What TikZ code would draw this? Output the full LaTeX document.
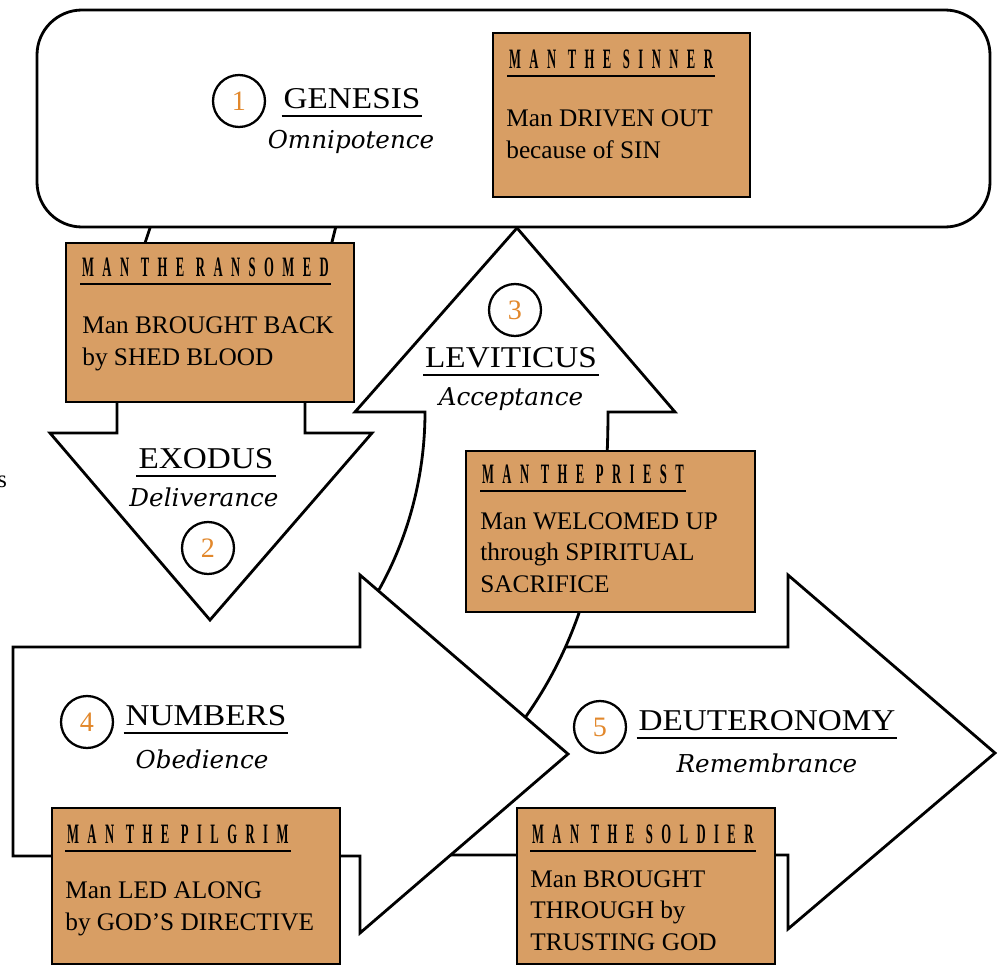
\documentclass[tikz,border=0pt]{standalone}
\usepackage{fontspec}
\setmainfont{Liberation Serif}
\newfontfamily\bookfont[FakeStretch=1.1]{Liberation Serif}
\newfontfamily\virtuefont{DejaVu Serif}
\newfontfamily\manfont[FakeStretch=0.45,LetterSpace=30]{Liberation Serif}
\usetikzlibrary{calc}
\definecolor{bibleTan}{RGB}{216,158,100}
\definecolor{bibleOrange}{RGB}{226,136,44}

\begin{document}
\begin{tikzpicture}[x=0.02cm, y=-0.02cm,
    outline/.style={draw, line width=1.6pt, fill=white, line join=miter},
    manbox/.style={draw, line width=1.6pt, fill=bibleTan, inner sep=0pt},
    mantitle/.style={anchor=base west, inner xsep=1pt, inner ysep=4.3pt, font=\manfont\bfseries\fontsize{16}{18}\selectfont},
    mantext/.style={anchor=base west, inner sep=0pt, align=left, font=\fontsize{14.4}{17.9}\selectfont},
    bookname/.style={anchor=base, inner xsep=1pt, inner ysep=4pt, font=\bookfont\fontsize{17.2}{20}\selectfont},
    virtue/.style={anchor=base, inner sep=0pt, font=\virtuefont\itshape\fontsize{14}{16}\selectfont},
    booknum/.style={circle, draw, line width=1.3pt, minimum size=1.04cm, inner sep=0pt, text=bibleOrange, font=\fontsize{16}{17}\selectfont},
    underrule/.style={line width=1pt}]
    \useasboundingbox (0,0) rectangle (998,967);
    \clip (0,0) rectangle (998,967);

    \draw[outline] (430,647) -- (788,647) -- (788,575) -- (995,753) -- (788,929) -- (788,855) -- (430,855) -- cycle;
    \draw[outline] (517,228) -- (675,412) -- (608,412) .. controls (608,540) and (585,650) .. (500,750) -- (373,600) .. controls (407,544) and (425,478) .. (425,412) -- (355,412) -- cycle;
    \draw[outline] (152,222) -- (144,246) -- (117,395) -- (117,433) -- (50,433) -- (210,620) -- (372,433) -- (305,433) -- (305,395) -- (331,246) -- (337,222) -- cycle;
    \draw[outline] (13,647) -- (360,647) -- (360,575) -- (568,754) -- (360,933) -- (360,856) -- (13,856) -- cycle;
    \draw[outline, rounded corners=0.9cm] (37,10) rectangle (990,227);

    \node[manbox, minimum width=5.14cm, minimum height=3.28cm] (sinner) at (621.5,115) {};
    \node[manbox, minimum width=5.76cm, minimum height=3.18cm] (ransomed) at (210,322.5) {};
    \node[manbox, minimum width=5.78cm, minimum height=3.22cm] (priest) at (610.5,531.5) {};
    \node[manbox, minimum width=5.76cm, minimum height=3.12cm] (pilgrim) at (196,886) {};
    \node[manbox, minimum width=5.16cm, minimum height=3.12cm] (soldier) at (646,886) {};

    \node[mantitle] (sinnerhead) at (507,68) {MAN THE SINNER};
    \draw[underrule] (sinnerhead.south west) -- (sinnerhead.south east);
    \node[mantext] (sinnertext) at (506,158) {Man DRIVEN OUT\\because of SIN};

    \node[mantitle] (ransomedhead) at (80,276) {MAN THE RANSOMED};
    \draw[underrule] (ransomedhead.south west) -- (ransomedhead.south east);
    \node[mantext] (ransomedtext) at (82,365) {Man BROUGHT BACK\\by SHED BLOOD};

    \node[mantitle] (priesthead) at (480,483) {MAN THE PRIEST};
    \draw[underrule] (priesthead.south west) -- (priesthead.south east);
    \node[mantext] (priesttext) at (480,592) {Man WELCOMED UP\\through SPIRITUAL\\SACRIFICE};

    \node[mantitle] (pilgrimhead) at (65,843) {MAN THE PILGRIM};
    \draw[underrule] (pilgrimhead.south west) -- (pilgrimhead.south east);
    \node[mantext] (pilgrimtext) at (65,930) {Man LED ALONG\\by GOD'S DIRECTIVE};

    \node[mantitle] (soldierhead) at (530,843) {MAN THE SOLDIER};
    \draw[underrule] (soldierhead.south west) -- (soldierhead.south east);
    \node[mantext] (soldiertext) at (530,950) {Man BROUGHT\\THROUGH by\\TRUSTING GOD};

    \node[booknum] (num1) at (239,101) {1};
    \node[bookname] (genesis) at (352,108) {GENESIS};
    \draw[underrule] (genesis.south west) -- (genesis.south east);
    \node[virtue] (omnipotence) at (351,148) {Omnipotence};

    \node[bookname] (exodus) at (206,468) {EXODUS};
    \draw[underrule] (exodus.south west) -- (exodus.south east);
    \node[virtue] (deliverance) at (204,506) {Deliverance};
    \node[booknum] (num2) at (208,548) {2};

    \node[booknum] (num3) at (515,310) {3};
    \node[bookname] (leviticus) at (511,367) {LEVITICUS};
    \draw[underrule] (leviticus.south west) -- (leviticus.south east);
    \node[virtue] (acceptance) at (511,405) {Acceptance};

    \node[booknum] (num4) at (87,722) {4};
    \node[bookname] (numbers) at (206,725) {NUMBERS};
    \draw[underrule] (numbers.south west) -- (numbers.south east);
    \node[virtue] (obedience) at (202,768) {Obedience};

    \node[booknum] (num5) at (600,727) {5};
    \node[bookname] (deuteronomy) at (767,730) {DEUTERONOMY};
    \draw[underrule] (deuteronomy.south west) -- (deuteronomy.south east);
    \node[virtue] (remembrance) at (767,772) {Remembrance};

    \node[anchor=base west, inner sep=0pt, font=\fontsize{14}{16}\selectfont] (edgemark) at (-3,487) {s};
\end{tikzpicture}
\end{document}
